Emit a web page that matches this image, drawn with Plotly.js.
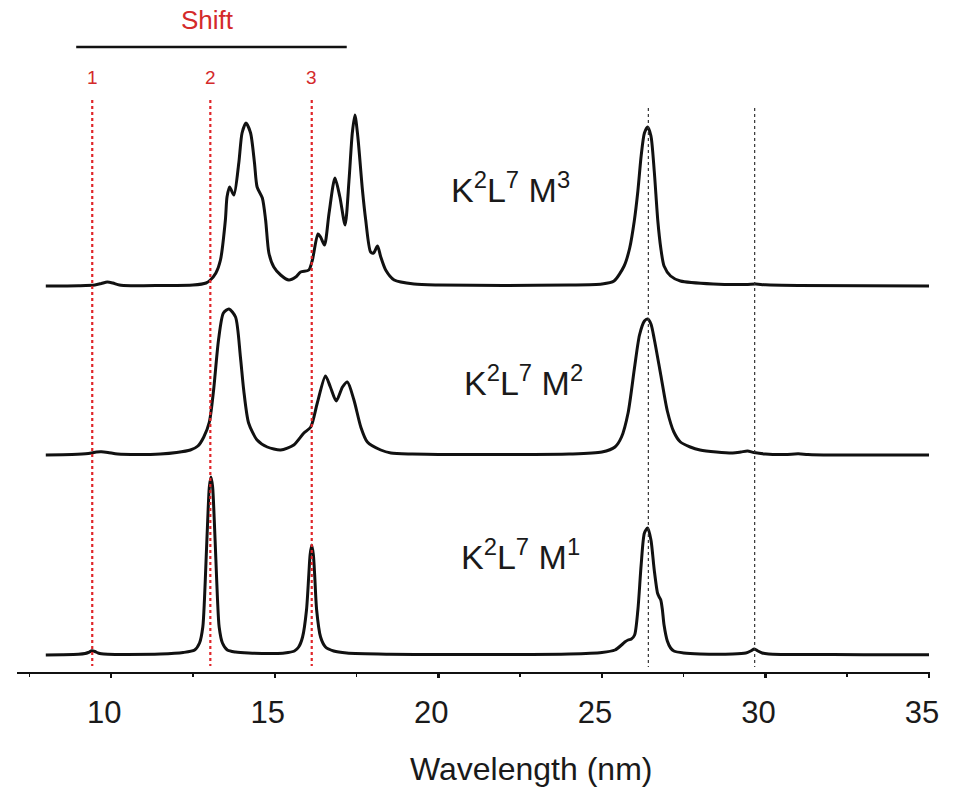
<!DOCTYPE html>
<html>
<head>
<meta charset="utf-8">
<script src="https://cdn.plot.ly/plotly-3.0.1.min.js"></script>
<style>html,body{margin:0;padding:0;background:#fff;}#chart{width:955px;height:787px;}</style>
</head>
<body>
<div id="chart"></div>
<script>
// Wavelength (nm) samples and intensities (arbitrary units) for each spectrum
const m1X = [8.0, 8.5, 9.0, 9.2, 9.3, 9.41, 9.5, 9.6, 9.7, 9.9, 10.5, 11.5, 12.2, 12.55, 12.7, 12.8, 12.85, 12.9, 12.95, 13.0, 13.05, 13.1, 13.15, 13.2, 13.25, 13.3, 13.4, 13.55, 13.8, 14.2, 15.0, 15.3, 15.6, 15.73, 15.85, 15.97, 16.04, 16.08, 16.13, 16.18, 16.22, 16.28, 16.4, 16.55, 16.8, 17.2, 18.5, 20, 22, 24, 25.0, 25.4, 25.6, 25.7, 25.8, 25.9, 26.0, 26.1, 26.2, 26.3, 26.4, 26.5, 26.6, 26.7, 26.75, 26.8, 26.85, 26.9, 27.0, 27.1, 27.2, 27.5, 28.0, 29.0, 29.4, 29.55, 29.66, 29.77, 29.9, 30.1, 30.5, 31, 33, 35];
const m1Y = [0, 0.3, 0.8, 1.5, 2.5, 4.2, 3.5, 2, 1.2, 0.8, 0.6, 1, 2.5, 5, 12, 28, 55, 95, 135, 168, 178, 168, 135, 95, 55, 28, 12, 5, 3, 2, 1.5, 2, 4, 8, 18, 45, 80, 100, 110, 100, 80, 45, 18, 8, 4, 2, 0.8, 0.5, 0.5, 1, 2.5, 5, 10, 13, 15, 16, 20, 45, 90, 122, 127, 115, 85, 62, 58, 55, 45, 30, 14, 7, 4, 2, 1, 1, 2, 4, 6, 4, 2, 1, 0.6, 0.5, 0.3, 0.3];

const m2X = [8.0, 8.8, 9.3, 9.55, 9.7, 9.9, 10.2, 10.8, 11.5, 12.0, 12.42, 12.65, 12.83, 13.0, 13.13, 13.28, 13.43, 13.6, 13.8, 13.95, 14.05, 14.2, 14.46, 14.77, 15.18, 15.58, 15.89, 16.1, 16.3, 16.55, 16.7, 16.88, 17.07, 17.22, 17.42, 17.63, 17.83, 18.24, 18.55, 19.2, 20, 22, 24, 25.0, 25.4, 25.6, 25.8, 26.0, 26.15, 26.3, 26.4, 26.5, 26.6, 26.8, 27.0, 27.2, 27.4, 27.7, 28.0, 28.5, 29.0, 29.25, 29.45, 29.65, 30.0, 30.6, 31.0, 31.3, 32, 35];
const m2Y = [0, 0.5, 1.5, 3, 3.2, 2.5, 1, 0.5, 1, 2.5, 5, 9, 18, 33, 65, 115, 142, 146, 138, 98, 65, 32, 15, 8, 5, 10, 22, 28, 52, 79, 68, 54, 68, 73, 55, 28, 13, 5, 2, 1, 0.5, 0.5, 1, 3, 8, 18, 42, 88, 120, 134, 136, 131, 116, 80, 44, 23, 13, 8, 5, 3, 2, 3, 4, 2.5, 1, 0.5, 1.2, 0.5, 0, 0];

const m3X = [8.0, 9.0, 9.5, 9.7, 9.88, 10.05, 10.25, 10.6, 11.5, 12.5, 12.9, 13.03, 13.2, 13.34, 13.49, 13.54, 13.62, 13.75, 13.9, 14.0, 14.12, 14.26, 14.38, 14.46, 14.62, 14.72, 14.82, 14.97, 15.18, 15.43, 15.64, 15.79, 16.04, 16.15, 16.32, 16.4, 16.52, 16.66, 16.84, 16.99, 17.15, 17.27, 17.37, 17.45, 17.54, 17.68, 17.78, 17.93, 18.02, 18.14, 18.24, 18.39, 18.65, 19.26, 20.0, 22, 24, 25.0, 25.37, 25.68, 25.85, 25.99, 26.1, 26.2, 26.3, 26.4, 26.5, 26.6, 26.71, 26.8, 26.9, 27.1, 27.4, 28.4, 29.4, 29.7, 30.0, 31, 35];
const m3Y = [0, 0.3, 1, 2.5, 4, 3, 1, 0.3, 0.5, 1, 3, 6, 13, 26, 66, 89, 99, 91, 123, 153, 163, 153, 123, 99, 88, 66, 33, 19, 11, 6, 9, 14, 16, 26, 52, 49, 41, 73, 108, 89, 61, 106, 153, 171, 149, 96, 66, 34, 33, 40, 29, 16, 6, 2, 1, 0.5, 1, 2, 5, 20, 38, 65, 95, 130, 153, 159, 150, 115, 65, 38, 20, 10, 5, 2, 1.5, 2, 1.2, 0.5, 0];

const seriesNames = ["K<sup>2</sup>L<sup>7</sup> M<sup>1</sup>", "K<sup>2</sup>L<sup>7</sup> M<sup>2</sup>", "K<sup>2</sup>L<sup>7</sup> M<sup>3</sup>"];
const shiftLines = [9.42, 13.03, 16.13];      // red reference lines 1,2,3
const shiftLabels = ["1", "2", "3"];
const refLines = [26.42, 29.67];              // black dotted reference lines
const tickVals = [10, 15, 20, 25, 30, 35];
const xTitle = 'Wavelength (nm)';

// layout helpers (vertical offsets of the stacked spectra)
const offsets = [0, 200, 369];
const labelPos = [[20.62, 101], [20.72, 275], [20.33, 468]];
const FONT = 'Liberation Sans, Arial, sans-serif';

const traces = [[m1X, m1Y], [m2X, m2Y], [m3X, m3Y]].map((s, i) => ({
  x: s[0], y: s[1].map(v => v + offsets[i]), type: 'scatter', mode: 'lines',
  line: {color: '#111', width: 3, shape: 'spline', smoothing: 0.7},
  hoverinfo: 'skip', showlegend: false
}));

const shapes = [];
shiftLines.forEach(x => shapes.push({type: 'line', xref: 'x', yref: 'y', x0: x, x1: x, y0: 555, y1: -11,
  line: {color: '#e0262a', width: 2.2, dash: 'dot'}}));
refLines.forEach(x => shapes.push({type: 'line', xref: 'x', yref: 'y', x0: x, x1: x, y0: 547, y1: -12,
  line: {color: '#333', width: 1.2, dash: 'dot'}}));
shapes.push({type: 'line', xref: 'x', yref: 'y', x0: 8.93, x1: 17.2, y0: 608, y1: 608,
  line: {color: '#111', width: 2.5}});

const annotations = [];
seriesNames.forEach((t, i) => annotations.push({x: labelPos[i][0], y: labelPos[i][1], xref: 'x', yref: 'y',
  xanchor: 'left', yanchor: 'middle',
  text: t, showarrow: false, font: {family: FONT, size: 34, color: '#1a1a1a'}}));
shiftLines.forEach((x, i) => annotations.push({x: x, y: 578, xref: 'x', yref: 'y', text: shiftLabels[i],
  showarrow: false, font: {family: FONT, size: 19, color: '#d42a2a'}}));
annotations.push({x: 12.94, y: 635, xref: 'x', yref: 'y', text: 'Shift', showarrow: false,
  font: {family: FONT, size: 26, color: '#d42a2a'}});
annotations.push({x: 22.84, y: -0.144, xref: 'x', yref: 'paper', xanchor: 'center', yanchor: 'middle',
  text: xTitle, showarrow: false, font: {family: FONT, size: 32, color: '#1a1a1a'}});

const layout = {
  width: 955, height: 787,
  margin: {l: 17, r: 25, t: 0, b: 115},
  paper_bgcolor: '#fff', plot_bgcolor: '#fff',
  showlegend: false,
  xaxis: {
    range: [7.12, 35.03], showgrid: false, zeroline: false,
    showline: true, linecolor: '#111', linewidth: 1.5,
    ticks: 'outside', ticklen: 4, tickwidth: 2.5, tickcolor: '#111',
    tickvals: tickVals, ticklabelstandoff: 8, ticklabelshift: -7,
    minor: {dtick: 2.5, tick0: 0, ticks: 'outside', ticklen: 3, tickwidth: 1.5, tickcolor: '#111', showgrid: false},
    tickfont: {family: FONT, size: 31, color: '#1a1a1a'}
  },
  yaxis: {range: [-17, 655], visible: false, showgrid: false, zeroline: false, fixedrange: true},
  shapes: shapes,
  annotations: annotations
};

Plotly.newPlot('chart', traces, layout, {staticPlot: true, displayModeBar: false});
</script>
</body>
</html>
